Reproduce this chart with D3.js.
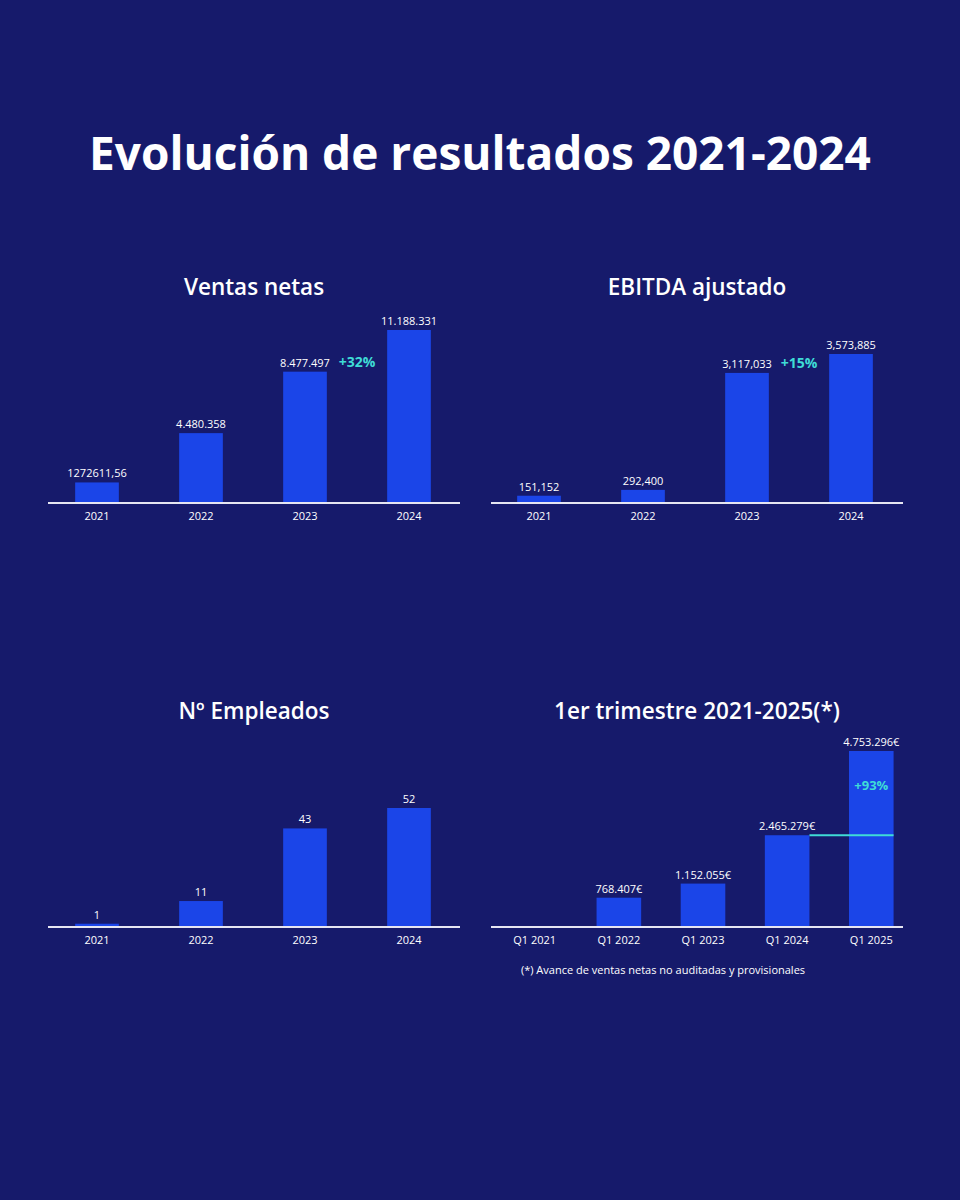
<!DOCTYPE html>
<html>
<head>
<meta charset="utf-8">
<script src="https://cdn.jsdelivr.net/npm/d3@7"></script>
<style>
  body { margin: 0; background: #161a6b; }
  svg { display: block; font-family: "Open Sans", "Noto Sans", sans-serif; }
</style>
</head>
<body>
<script>
// data
var years = ["2021", "2022", "2023", "2024"];
var ventas = [1272611.56, 4480358, 8477497, 11188331];
var ventasLabels = ["1272611,56", "4.480.358", "8.477.497", "11.188.331"];
var ebitda = [151152, 292400, 3117033, 3573885];
var ebitdaLabels = ["151,152", "292,400", "3,117,033", "3,573,885"];
var empleados = [1, 11, 43, 52];
var empleadosLabels = ["1", "11", "43", "52"];
var quarters = ["Q1 2021", "Q1 2022", "Q1 2023", "Q1 2024", "Q1 2025"];
var trimestre = [0, 768407, 1152055, 2465279, 4753296];
var trimestreLabels = ["", "768.407€", "1.152.055€", "2.465.279€", "4.753.296€"];

var W = 960, H = 1200;
var bg = "#161a6b", barColor = "#1b45e8", cyan = "#3fdcd6";

var svg = d3.select("body").append("svg")
    .attr("width", W)
    .attr("height", H);

svg.append("rect").attr("width", W).attr("height", H).attr("fill", bg);

// main title
svg.append("text")
    .attr("x", W / 2)
    .attr("y", 170)
    .attr("text-anchor", "middle")
    .attr("fill", "#fff")
    .attr("font-size", 46)
    .attr("font-weight", 700)
    .text("Evolución de resultados 2021-2024");

var panels = [
  {title: "Ventas netas", cats: years, vals: ventas, labels: ventasLabels,
   x0: 45, x1: 461, axis: [48, 460], base: 502, top: 330, titleY: 295, growth: "+32%"},
  {title: "EBITDA ajustado", cats: years, vals: ebitda, labels: ebitdaLabels,
   x0: 487, x1: 903, axis: [491, 903], base: 502, top: 354, titleY: 295, growth: "+15%"},
  {title: "Nº Empleados", cats: years, vals: empleados, labels: empleadosLabels,
   x0: 45, x1: 461, axis: [48, 460], base: 926, top: 808, titleY: 719},
  {title: "1er trimestre 2021-2025(*)", cats: quarters, vals: trimestre, labels: trimestreLabels,
   x0: 504, x1: 902, axis: [491, 903], base: 926, top: 751, titleY: 719, quarterly: true}
];

panels.forEach(function(p) {
  var x = d3.scaleBand()
      .domain(p.cats)
      .range([p.x0, p.x1]);
  if (p.quarterly) x.paddingInner(0.47).paddingOuter(0.1);
  else x.paddingInner(0.58).paddingOuter(0.29);

  var y = d3.scaleLinear()
      .domain([0, d3.max(p.vals)])
      .range([p.base, p.top]);

  var g = svg.append("g");

  g.append("text")
      .attr("x", (p.axis[0] + p.axis[1]) / 2)
      .attr("y", p.titleY)
      .attr("text-anchor", "middle")
      .attr("fill", "#fff")
      .attr("font-size", 22.5)
      .attr("font-weight", 600)
      .text(p.title);

  var data = p.cats.map(function(c, i) { return {cat: c, v: p.vals[i], label: p.labels[i]}; });

  g.selectAll(".bar")
    .data(data.filter(function(d) { return d.v > 0; }))
    .enter().append("rect")
      .attr("class", "bar")
      .attr("x", function(d) { return x(d.cat); })
      .attr("y", function(d) { return y(d.v); })
      .attr("width", x.bandwidth())
      .attr("height", function(d) { return p.base - y(d.v); })
      .attr("fill", barColor);

  g.selectAll(".val")
    .data(data)
    .enter().append("text")
      .attr("class", "val")
      .attr("x", function(d) { return x(d.cat) + x.bandwidth() / 2; })
      .attr("y", function(d) { return y(d.v) - 5; })
      .attr("text-anchor", "middle")
      .attr("fill", "#fff")
      .attr("font-size", 11)
      .text(function(d) { return d.label; });

  // x axis
  var ax = g.append("g")
      .attr("transform", "translate(0," + (p.base + 1) + ")")
      .call(d3.axisBottom(x).tickSize(0).tickPadding(9));
  ax.select(".domain").remove();
  ax.selectAll("text")
      .attr("fill", "#fff")
      .attr("font-size", 11)
      .attr("font-family", "Open Sans, sans-serif");
  g.append("line")
      .attr("x1", p.axis[0]).attr("x2", p.axis[1])
      .attr("y1", p.base + 1).attr("y2", p.base + 1)
      .attr("stroke", "#e6e6f2")
      .attr("stroke-width", 2);

  if (p.growth) {
    // growth badge between the last two bars, level with the 2023 label
    var a = p.cats[2], b = p.cats[3];
    g.append("text")
        .attr("x", (x(a) + x(b) + x.bandwidth()) / 2)
        .attr("y", y(p.vals[2]) - 5)
        .attr("text-anchor", "middle")
        .attr("fill", cyan)
        .attr("font-size", 14)
        .attr("font-weight", 700)
        .text(p.growth);
  }

  if (p.quarterly) {
    var prev = quarters[3], last = quarters[4];
    g.append("line")
        .attr("x1", x(prev) + x.bandwidth())
        .attr("x2", x(last) + x.bandwidth())
        .attr("y1", y(trimestre[3]))
        .attr("y2", y(trimestre[3]))
        .attr("stroke", cyan)
        .attr("stroke-width", 2);
    g.append("text")
        .attr("x", x(last) + x.bandwidth() / 2)
        .attr("y", 790)
        .attr("text-anchor", "middle")
        .attr("fill", cyan)
        .attr("font-size", 13)
        .attr("font-weight", 700)
        .text("+93%");
    g.append("text")
        .attr("x", 663)
        .attr("y", 974)
        .attr("text-anchor", "middle")
        .attr("fill", "#fff")
        .attr("font-size", 11)
        .text("(*) Avance de ventas netas no auditadas y provisionales");
  }
});
</script>
</body>
</html>
